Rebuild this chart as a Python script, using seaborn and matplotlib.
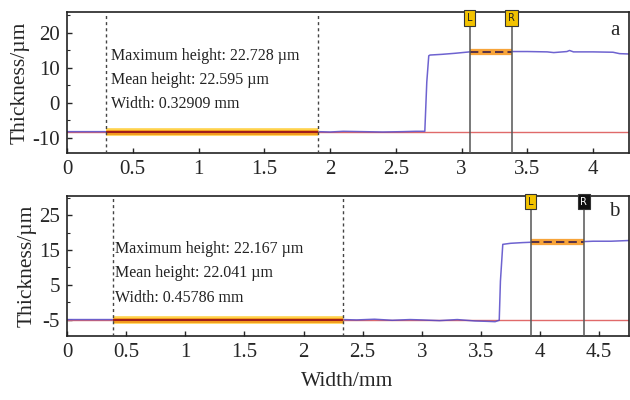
import matplotlib
matplotlib.use("Agg")
import matplotlib.pyplot as plt
import seaborn as sns
import pandas as pd
from matplotlib.ticker import FixedLocator, MultipleLocator

# ---------------- data ----------------
# panel a profile
a_x = [0.0, 0.30, 0.8, 1.3, 1.91, 2.0, 2.1, 2.25, 2.4, 2.55, 2.65, 2.72, 2.735, 2.75, 2.76,
       2.85, 2.95, 3.06, 3.2, 3.38, 3.5, 3.65, 3.7, 3.8, 3.82, 3.85, 4.0, 4.15, 4.2, 4.27]
a_y = [-8.2, -8.2, -8.2, -8.2, -8.2, -8.3, -8.1, -8.2, -8.3, -8.2, -8.1, -8.1, 6.0, 13.5, 13.7,
       13.9, 14.2, 14.6, 14.6, 14.7, 14.7, 14.6, 14.4, 14.7, 15.0, 14.6, 14.6, 14.5, 14.1, 14.0]
a_base = -8.2
a_plateau = 14.6
a_dash = [0.30, 1.91]
a_L, a_R = 3.06, 3.38
a_text = ["Maximum height: 22.728 µm", "Mean height: 22.595 µm", "Width: 0.32909 mm"]
a_xticks = [0, 0.5, 1, 1.5, 2, 2.5, 3, 3.5, 4]
a_xticklabels = ["0", "0.5", "1", "1.5", "2", "2.5", "3", "3.5", "4"]
a_yticks = [20, 10, 0, -10]
a_yticklabels = ["20", "10", "0", "-10"]

# panel b profile
b_x = [0.0, 0.39, 1.0, 1.7, 2.33, 2.45, 2.6, 2.75, 2.9, 3.0, 3.15, 3.3, 3.45, 3.55, 3.62, 3.655,
       3.665, 3.685, 3.75, 3.85, 3.92, 4.1, 4.3, 4.37, 4.45, 4.6, 4.75]
b_y = [-5.0, -5.0, -5.0, -5.0, -5.0, -5.1, -4.9, -5.2, -5.0, -5.1, -5.3, -5.0, -5.4, -5.5, -5.6, -5.2,
       6.0, 16.6, 16.9, 17.1, 17.2, 17.3, 17.3, 17.4, 17.5, 17.5, 17.7]
b_base = -5.0
b_plateau = 17.2
b_dash = [0.39, 2.33]
b_L, b_R = 3.92, 4.37
b_text = ["Maximum height: 22.167 µm", "Mean height: 22.041 µm", "Width: 0.45786 mm"]
b_xticks = [0, 0.5, 1, 1.5, 2, 2.5, 3, 3.5, 4, 4.5]
b_xticklabels = ["0", "0.5", "1", "1.5", "2", "2.5", "3", "3.5", "4", "4.5"]
b_yticks = [25, 15, 5, -5]
b_yticklabels = ["25", "15", "5", "-5"]

# ---------------- style ----------------
sns.set_style("ticks")
plt.rcParams["font.family"] = ["Liberation Serif", "DejaVu Serif"]
plt.rcParams["axes.linewidth"] = 1.2
plt.rcParams["xtick.direction"] = "in"
plt.rcParams["ytick.direction"] = "in"

BLUE = "#5548C8"
RED = "#E06A6A"
fig = plt.figure(figsize=(6.3, 4.0), dpi=100)
ax1 = fig.add_axes([0.1063, 0.6175, 0.8917, 0.3525])
ax2 = fig.add_axes([0.1063, 0.161, 0.8917, 0.350])


def base_band(ax, x0, x1, y):
    ax.plot([x0, x1], [y, y], color="#FFD34D", lw=5.5, solid_capstyle="butt", zorder=3)
    ax.plot([x0, x1], [y, y], color="#F39A1E", lw=3.5, solid_capstyle="butt", zorder=3)
    ax.plot([x0, x1], [y, y], color="#9E1B1B", lw=1.4, solid_capstyle="butt", zorder=4)


def top_band(ax, x0, x1, y):
    ax.plot([x0, x1], [y, y], color="#F7A43A", lw=4.5, solid_capstyle="butt", zorder=3)
    ax.plot([x0, x1], [y, y], color="#3A1E4A", lw=1.2, ls=(0, (5, 2.5)),
            solid_capstyle="butt", zorder=4)


def marker(ax, x, label, face, tc):
    ax.axvline(x, ymin=0, ymax=0.9, color="#555555", lw=1.1, zorder=5)
    ax.text(x, 0.992, label, transform=ax.get_xaxis_transform(), ha="center", va="top",
            fontsize=7, family="DejaVu Sans", color=tc, zorder=6,
            bbox=dict(boxstyle="square,pad=0.28", fc=face, ec="#333333", lw=0.8))


def panel(ax, xs, ys, base, plateau, dash, L, R, texts, txt_x, txt_y, xlim, ylim,
          xt, xtl, yt, ytl, letter, letter_y, R_face, R_tc):
    ax.axhline(base, color=RED, lw=1.0, zorder=1)
    df = pd.DataFrame({"x": xs, "y": ys})
    sns.lineplot(data=df, x="x", y="y", ax=ax, color=BLUE, lw=1.1, sort=False,
                 estimator=None, alpha=0.85, zorder=2)
    base_band(ax, dash[0], dash[1], base)
    top_band(ax, L, R, plateau)
    for d in dash:
        ax.axvline(d, color="#444444", lw=1.0, ls=(0, (2.2, 2.2)), zorder=5)
    marker(ax, L, "L", "#F2C200", "#222222")
    marker(ax, R, "R", R_face, R_tc)
    for t, ty in zip(texts, txt_y):
        ax.text(txt_x, ty, t, transform=ax.get_xaxis_transform(), fontsize=11.5,
                ha="left", va="center", color="#222222")
    ax.text(0.975, letter_y, letter, transform=ax.transAxes, fontsize=15, ha="center",
            va="center")
    ax.set_xlim(*xlim)
    ax.set_ylim(*ylim)
    ax.xaxis.set_major_locator(FixedLocator(xt))
    ax.set_xticklabels(xtl)
    ax.yaxis.set_major_locator(FixedLocator(yt))
    ax.set_yticklabels(ytl)
    ax.yaxis.set_minor_locator(MultipleLocator(5))
    ax.tick_params(axis="both", which="major", labelsize=15, length=3.5, width=1, pad=5)
    ax.tick_params(axis="y", which="minor", length=2.2, width=0.8)
    ax.set_xlabel("")
    ax.set_ylabel("Thickness/µm", fontsize=15.5, labelpad=2)
    for s in ax.spines.values():
        s.set_visible(True)
        s.set_color("#222222")


panel(ax1, a_x, a_y, a_base, a_plateau, a_dash, a_L, a_R, a_text, 0.335,
      [0.688, 0.518, 0.348], (0, 4.27), (-14.3, 26.0), a_xticks, a_xticklabels,
      a_yticks, a_yticklabels, "a", 0.87, "#F2C200", "#222222")
panel(ax2, b_x, b_y, b_base, b_plateau, b_dash, b_L, b_R, b_text, 0.405,
      [0.619, 0.448, 0.269], (0, 4.75), (-9.6, 30.6), b_xticks, b_xticklabels,
      b_yticks, b_yticklabels, "b", 0.89, "#111111", "white")

fig.text(0.551, 0.047, "Width/mm", ha="center", va="center", fontsize=15.5)

fig.savefig("out.png", dpi=100)
